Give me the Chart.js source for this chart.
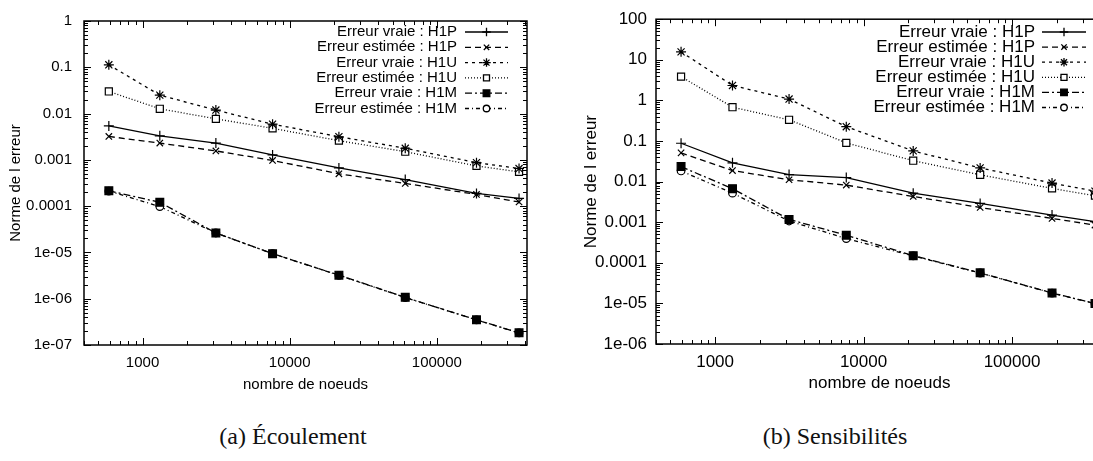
<!DOCTYPE html>
<html>
<head>
<meta charset="utf-8">
<script src="https://cdn.jsdelivr.net/npm/chart.js@4/dist/chart.umd.min.js"></script>
<style>
  html, body { margin: 0; padding: 0; background: #fff; overflow: hidden; }
  body { width: 1093px; height: 461px; position: relative; }
  canvas { position: absolute; top: 0; }
  #chart-a { left: 0; }
  #chart-b { left: 546px; }
  .caption { position: absolute; top: 423px; font-family: "Liberation Serif", serif; font-size: 24px; color: #111; transform: translateX(-50%); white-space: nowrap; }
</style>
</head>
<body>
<canvas id="chart-a" width="546" height="400"></canvas>
<canvas id="chart-b" width="564" height="400"></canvas>
<div class="caption" style="left:293px">(a) Écoulement</div>
<div class="caption" style="left:835px">(b) Sensibilités</div>
<script>
// nombre de noeuds des maillages
const nodes = [590, 1310, 3150, 7650, 21600, 61000, 186000, 362000];

const seriesLabels = [
  'Erreur vraie : H1P',
  'Erreur estimée : H1P',
  'Erreur vraie : H1U',
  'Erreur estimée : H1U',
  'Erreur vraie : H1M',
  'Erreur estimée : H1M'
];

// (a) Écoulement
const flowTrueH1P = [0.0054, 0.0033, 0.0023, 0.00128, 0.00067, 0.000375, 0.000188, 0.000147];
const flowEstH1P  = [0.0032, 0.0023, 0.00156, 0.00097, 0.00050, 0.00031, 0.000179, 0.000123];
const flowTrueH1U = [0.113, 0.025, 0.0119, 0.0059, 0.00316, 0.00178, 0.00087, 0.00065];
const flowEstH1U  = [0.030, 0.0127, 0.0077, 0.0048, 0.0026, 0.0015, 0.00074, 0.00055];
const flowTrueH1M = [0.000215, 0.000121, 2.63e-5, 9.4e-6, 3.23e-6, 1.07e-6, 3.5e-7, 1.83e-7];
const flowEstH1M  = [0.000212, 0.000098, 2.63e-5, 9.4e-6, 3.2e-6, 1.06e-6, 3.5e-7, 1.82e-7];

// (b) Sensibilités
const sensTrueH1P = [0.088, 0.029, 0.0149, 0.0126, 0.0052, 0.0029, 0.0015, 0.00103];
const sensEstH1P  = [0.051, 0.0187, 0.0111, 0.0082, 0.0043, 0.0023, 0.00124, 0.00085];
const sensTrueH1U = [15.7, 2.33, 1.08, 0.225, 0.057, 0.0217, 0.0092, 0.0058];
const sensEstH1U  = [3.86, 0.68, 0.333, 0.090, 0.0327, 0.0147, 0.0068, 0.0045];
const sensTrueH1M = [0.0234, 0.0067, 0.00117, 0.000478, 0.00015, 5.66e-5, 1.81e-5, 9.95e-6];
const sensEstH1M  = [0.0183, 0.0052, 0.00107, 0.000396, 0.000148, 5.6e-5, 1.8e-5, 9.9e-6];

const xTicks = [1000, 10000, 100000];
const yTicksA = [1, 0.1, 0.01, 0.001, 0.0001, 1e-5, 1e-6, 1e-7];
const yTickLabelsA = ['1', '0.1', '0.01', '0.001', '0.0001', '1e-05', '1e-06', '1e-07'];
const yTicksB = [100, 10, 1, 0.1, 0.01, 0.001, 0.0001, 1e-5, 1e-6];
const yTickLabelsB = ['100', '10', '1', '0.1', '0.01', '0.001', '0.0001', '1e-05', '1e-06'];

// styles gnuplot : tirets et symboles
const lineDashes = [[], [6, 4], [3, 4], [1, 2], [7, 3, 2, 3], [4, 3, 1, 3]];
const pointStyles = ['cross', 'crossRot', 'star', 'rect', 'rect', 'circle'];
const pointFills = ['#000', '#000', '#000', '#fff', '#000', '#fff'];
const pointRadii = [5, 4.5, 5, 5, 5.5, 3.8];

const FONT = '"Liberation Sans", Arial, sans-serif';

function buildDatasets(seriesList) {
  return seriesList.map((values, i) => ({
    label: seriesLabels[i],
    data: values.map((v, k) => ({ x: nodes[k], y: v })),
    borderColor: '#000',
    borderWidth: 1.3,
    borderDash: lineDashes[i],
    pointStyle: pointStyles[i],
    pointRadius: pointRadii[i],
    pointBackgroundColor: pointFills[i],
    pointBorderColor: '#000',
    pointBorderWidth: 1.2,
    tension: 0,
    fill: false
  }));
}

// cadre + graduations vers l'intérieur (style gnuplot)
const frameTicks = {
  id: 'frameTicks',
  afterDraw(chart) {
    const { ctx, chartArea: a, scales: { x, y } } = chart;
    ctx.save();
    ctx.strokeStyle = '#000';
    ctx.lineWidth = 1.5;
    ctx.strokeRect(a.left, a.top, a.right - a.left, a.bottom - a.top);
    ctx.lineWidth = 1;
    ctx.beginPath();
    for (let e = Math.floor(Math.log10(x.min)); e <= Math.ceil(Math.log10(x.max)); e++) {
      for (let m = 1; m < 10; m++) {
        const v = m * Math.pow(10, e);
        if (v < x.min || v > x.max) continue;
        const px = Math.round(x.getPixelForValue(v)) + 0.5;
        const len = m === 1 ? 7 : 4;
        ctx.moveTo(px, a.bottom); ctx.lineTo(px, a.bottom - len);
        ctx.moveTo(px, a.top); ctx.lineTo(px, a.top + len);
      }
    }
    for (let e = Math.floor(Math.log10(y.min)); e <= Math.ceil(Math.log10(y.max)); e++) {
      for (let m = 1; m < 10; m++) {
        const v = m * Math.pow(10, e);
        if (v < y.min * 0.999 || v > y.max * 1.001) continue;
        const py = Math.round(y.getPixelForValue(v)) + 0.5;
        const len = m === 1 ? 7 : 4;
        ctx.moveTo(a.left, py); ctx.lineTo(a.left + len, py);
        ctx.moveTo(a.right, py); ctx.lineTo(a.right - len, py);
      }
    }
    ctx.stroke();
    ctx.restore();
  }
};

// légende gnuplot : texte aligné à droite puis échantillon de trait
const gnuLegend = {
  id: 'gnuLegend',
  afterDatasetsDraw(chart, args, opts) {
    const { ctx } = chart;
    ctx.save();
    ctx.font = opts.fontSize + 'px ' + FONT;
    ctx.textAlign = 'right';
    ctx.textBaseline = 'middle';
    chart.data.datasets.forEach((ds, i) => {
      const yy = opts.top + i * opts.step;
      ctx.fillStyle = '#000';
      ctx.fillText(ds.label, opts.textRight, yy);
      ctx.strokeStyle = '#000';
      ctx.lineWidth = ds.borderWidth;
      ctx.setLineDash(ds.borderDash);
      ctx.beginPath();
      ctx.moveTo(opts.lineLeft, yy);
      ctx.lineTo(opts.lineLeft + opts.lineLen, yy);
      ctx.stroke();
      ctx.setLineDash([]);
      ctx.fillStyle = ds.pointBackgroundColor;
      Chart.helpers.drawPoint(ctx, {
        pointStyle: ds.pointStyle,
        radius: ds.pointRadius * 0.85,
        borderWidth: ds.pointBorderWidth,
        rotation: 0
      }, opts.lineLeft + opts.lineLen / 2, yy);
    });
    ctx.restore();
  }
};

function makeChart(canvasId, seriesList, yMin, yMax, yTicks, yLabels, layout) {
  const fs = layout.fontSize;
  return new Chart(document.getElementById(canvasId), {
    type: 'line',
    data: { datasets: buildDatasets(seriesList) },
    options: {
      responsive: false,
      animation: false,
      devicePixelRatio: 1,
      layout: { padding: { top: layout.top, right: layout.right, left: 0, bottom: layout.bottom } },
      plugins: {
        legend: { display: false },
        tooltip: { enabled: false },
        gnuLegend: layout.legend
      },
      scales: {
        x: {
          type: 'logarithmic',
          min: 400,
          max: 410000,
          afterBuildTicks: (s) => { s.ticks = xTicks.map(v => ({ value: v })); },
          afterFit: (s) => { s.height = layout.xHeight; },
          ticks: {
            callback: (v) => String(v),
            color: '#000',
            font: { family: FONT, size: fs },
            padding: layout.xTickPad,
            maxRotation: 0
          },
          grid: { display: false, drawTicks: false },
          border: { display: false },
          title: {
            display: true,
            text: 'nombre de noeuds',
            color: '#000',
            font: { family: FONT, size: fs },
            padding: { top: 4, bottom: 0 }
          }
        },
        y: {
          type: 'logarithmic',
          min: yMin,
          max: yMax,
          afterBuildTicks: (s) => { s.ticks = yTicks.map(v => ({ value: v })); },
          afterFit: (s) => { s.width = layout.yWidth; },
          ticks: {
            callback: (v) => yLabels[yTicks.indexOf(v)] ?? '',
            color: '#000',
            font: { family: FONT, size: fs },
            padding: layout.yTickPad
          },
          grid: { display: false, drawTicks: false },
          border: { display: false },
          title: {
            display: true,
            text: 'Norme de l erreur',
            color: '#000',
            font: { family: FONT, size: fs },
            padding: { top: layout.yTitlePad, bottom: 0 }
          }
        }
      }
    },
    plugins: [frameTicks, gnuLegend]
  });
}

makeChart('chart-a',
  [flowTrueH1P, flowEstH1P, flowTrueH1U, flowEstH1U, flowTrueH1M, flowEstH1M],
  1e-7, 1, yTicksA, yTickLabelsA,
  { top: 18, right: 19, bottom: 6, xHeight: 49, yWidth: 84, yTickPad: 12, yTitlePad: 7,
    xTickPad: 9, fontSize: 15,
    legend: { top: 32, step: 15.3, fontSize: 15, textRight: 457, lineLeft: 465, lineLen: 43 } });

makeChart('chart-b',
  [sensTrueH1P, sensEstH1P, sensTrueH1U, sensEstH1U, sensTrueH1M, sensEstH1M],
  1e-6, 100, yTicksB, yTickLabelsB,
  { top: 16, right: 7, bottom: 6, xHeight: 50, yWidth: 110, yTickPad: 9, yTitlePad: 35,
    xTickPad: 8, fontSize: 17,
    legend: { top: 32, step: 15.1, fontSize: 17, textRight: 1035 - 546, lineLeft: 1042 - 546, lineLen: 44 } });
</script>
</body>
</html>
